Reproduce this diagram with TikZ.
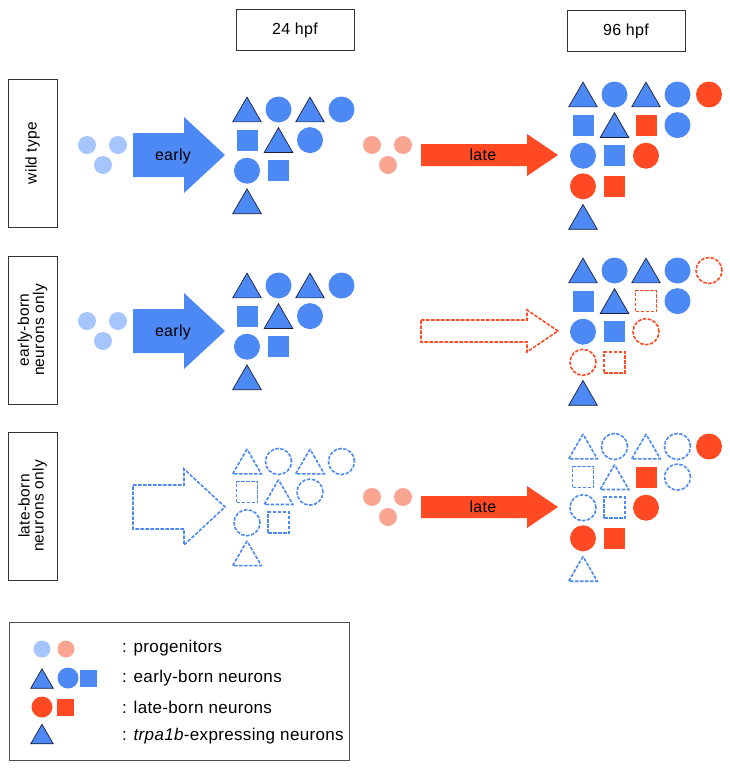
\documentclass[tikz,border=0pt]{standalone}
\usepackage{fontspec}
\setmainfont[LetterSpace=2]{Liberation Sans}
\usetikzlibrary{shapes.geometric}

\definecolor{earlyblue}{RGB}{77,137,245}
\definecolor{earlyprog}{RGB}{166,197,252}
\definecolor{latered}{RGB}{255,74,36}
\definecolor{lateprog}{RGB}{250,165,145}
\definecolor{trioutline}{RGB}{25,30,60}

% 24 hpf cluster: col/row/shape
\newcommand{\layoutearly}{0/0/tri, 1/0/circ, 2/0/tri, 3/0/circ, 0/1/sq, 1/1/tri, 2/1/circ, 0/2/circ, 1/2/sq, 0/3/tri}
% 96 hpf cluster: col/row/shape/birth
\newcommand{\layoutlate}{0/0/tri/early, 1/0/circ/early, 2/0/tri/early, 3/0/circ/early, 4/0/circ/late,
  0/1/sq/early, 1/1/tri/early, 2/1/sq/late, 3/1/circ/early,
  0/2/circ/early, 1/2/sq/early, 2/2/circ/late,
  0/3/circ/late, 1/3/sq/late, 0/4/tri/early}

\begin{document}
\begin{tikzpicture}[
  x=1pt, y=-1pt,
  font=\fontsize{16}{18}\selectfont,
  stage/.style={draw=black!80, line width=0.8pt, minimum width=118pt, minimum height=41pt},
  rowlabel/.style={
    draw=black!80, line width=0.8pt, rotate=90, align=center,
    minimum width=148pt, minimum height=49pt, font=\fontsize{15.5}{14}\selectfont
  },
  tri/.style={regular polygon, regular polygon sides=3, minimum size=33pt, inner sep=0pt,
    draw=trioutline, line width=0.7pt, yshift=-4.1pt},
  circ/.style={circle, minimum size=26pt, inner sep=0pt},
  sq/.style={rectangle, minimum size=21pt, inner sep=0pt},
  ghost/.style={draw=#1, fill=none, line width=1.6pt, dash pattern=on 3.5pt off 1.5pt},
  early cell/.style={fill=earlyblue},
  late cell/.style={fill=latered},
  prog/.style={circle, minimum size=18pt, inner sep=0pt, fill=#1},
  arrowtext/.style={inner sep=0pt},
  keytext/.style={anchor=west, inner sep=0pt, font=\fontsize{17}{19}\selectfont},
  pics/fatarrow/.style={code={
    \path[pic actions] (0,-22) -- (51,-22) -- (51,-38) -- (92,0) -- (51,38) -- (51,22) -- (0,22) -- cycle;
  }},
  pics/slimarrow/.style={code={
    \path[pic actions] (0,-11) -- (106,-11) -- (106,-21) -- (137,0) -- (106,21) -- (106,11) -- (0,11) -- cycle;
  }}
]
\useasboundingbox (0,0) rectangle (729,769);

% stages
\node[stage] (h24) at (295,30) {24 hpf};
\node[stage] (h96) at (626,31) {96 hpf};

% row labels
\node[rowlabel] (rwt) at (32.5,153) {wild type};
\node[rowlabel] (reb) at (32.5,330) {early-born\\neurons only};
\node[rowlabel] (rlb) at (32.5,506) {late-born\\neurons only};

% wild type
\begin{scope}
  \node[prog=earlyprog] (wtpa) at (87,145) {};
  \node[prog=earlyprog] (wtpb) at (118,145) {};
  \node[prog=earlyprog] (wtpc) at (103,165) {};
  \pic[fill=earlyblue] at (133,155) {fatarrow};
  \node[arrowtext] (wtearly) at (173,156) {early};
  \foreach \c/\r/\s [count=\i] in \layoutearly
    \node[\s, early cell] (wt24-\i) at ({247+\c*31.5}, {109.5+\r*30.6}) {};
  \node[prog=lateprog] (wtpd) at (372,145) {};
  \node[prog=lateprog] (wtpe) at (403,145) {};
  \node[prog=lateprog] (wtpf) at (388,165) {};
  \pic[fill=latered] at (421,155) {slimarrow};
  \node[arrowtext] (wtlate) at (483,155) {late};
  \foreach \c/\r/\s/\k [count=\i] in \layoutlate
    \node[\s, \k\space cell] (wt96-\i) at ({583+\c*31.5}, {94.5+\r*30.6}) {};
\end{scope}

% early-born neurons only
\begin{scope}[shift={(0,176)}, late cell/.style={ghost=latered}]
  \node[prog=earlyprog] (ebpa) at (87,145) {};
  \node[prog=earlyprog] (ebpb) at (118,145) {};
  \node[prog=earlyprog] (ebpc) at (103,165) {};
  \pic[fill=earlyblue] at (133,155) {fatarrow};
  \node[arrowtext] (ebearly) at (173,156) {early};
  \foreach \c/\r/\s [count=\i] in \layoutearly
    \node[\s, early cell] (eb24-\i) at ({247+\c*31.5}, {109.5+\r*30.6}) {};
  \pic[ghost=latered, fill=white] at (421,155) {slimarrow};
  \foreach \c/\r/\s/\k [count=\i] in \layoutlate
    \node[\s, \k\space cell] (eb96-\i) at ({583+\c*31.5}, {94.5+\r*30.6}) {};
\end{scope}

% late-born neurons only
\begin{scope}[shift={(0,352)}, early cell/.style={ghost=earlyblue}]
  \pic[ghost=earlyblue, fill=white] at (133,155) {fatarrow};
  \foreach \c/\r/\s [count=\i] in \layoutearly
    \node[\s, early cell] (lb24-\i) at ({247+\c*31.5}, {109.5+\r*30.6}) {};
  \node[prog=lateprog] (lbpd) at (372,145) {};
  \node[prog=lateprog] (lbpe) at (403,145) {};
  \node[prog=lateprog] (lbpf) at (388,165) {};
  \pic[fill=latered] at (421,155) {slimarrow};
  \node[arrowtext] (lblate) at (483,155) {late};
  \foreach \c/\r/\s/\k [count=\i] in \layoutlate
    \node[\s, \k\space cell] (lb96-\i) at ({583+\c*31.5}, {94.5+\r*30.6}) {};
\end{scope}

% legend
\node[draw=black!70, line width=0.8pt, minimum width=340pt, minimum height=138pt, anchor=north west] (legend) at (9,622) {};
\node[prog=earlyprog, minimum size=17pt] (kpa) at (42,649) {};
\node[prog=lateprog, minimum size=17pt] (kpb) at (66,649) {};
\node[tri, early cell, minimum size=26pt, yshift=0.8pt] (kea) at (42,678.5) {};
\node[circ, early cell, minimum size=21pt] (keb) at (68,678) {};
\node[sq, early cell, minimum size=17pt] (kec) at (88,678) {};
\node[circ, late cell, minimum size=21pt] (kla) at (42,707) {};
\node[sq, late cell, minimum size=17pt] (klb) at (65,707) {};
\node[tri, early cell, minimum size=26pt, yshift=0.8pt] (kta) at (42,734) {};
\node[keytext] (tpa) at (122,648) {: progenitors};
\node[keytext] (tea) at (122,678) {: early-born neurons};
\node[keytext] (tla) at (122,707) {: late-born neurons};
\node[keytext] (tta) at (122,736) {: \textit{trpa1b}-expressing neurons};

\end{tikzpicture}
\end{document}
